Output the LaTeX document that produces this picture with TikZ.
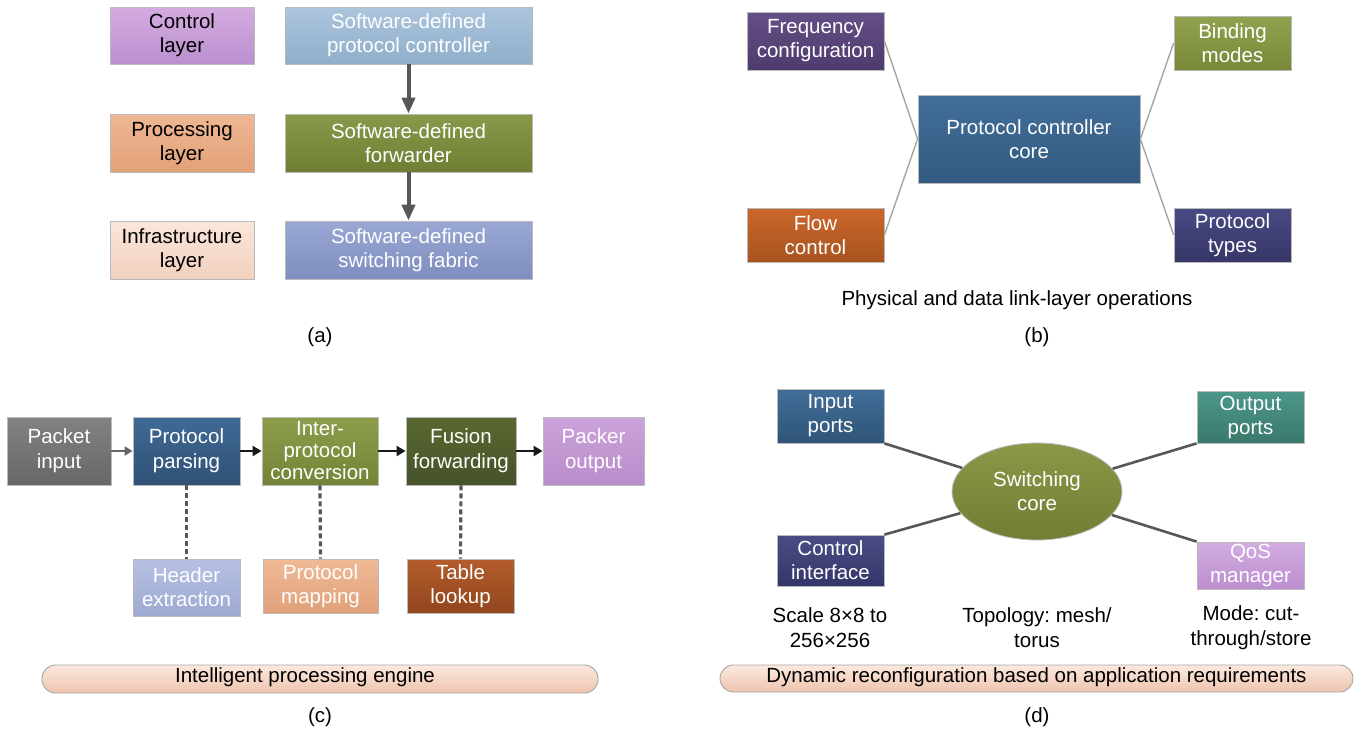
\documentclass[tikz,border=0pt]{standalone}
\usepackage{fontspec}
\setmainfont{Liberation Sans}
\usetikzlibrary{arrows.meta,shapes.geometric}
\frenchspacing
% panel (a)
\definecolor{ctlT}{HTML}{D3ACE1}\definecolor{ctlB}{HTML}{BC8FCF}
\definecolor{proT}{HTML}{EFB793}\definecolor{proB}{HTML}{E2A179}
\definecolor{infT}{HTML}{FAE6DA}\definecolor{infB}{HTML}{F2D1BF}
\definecolor{sdcT}{HTML}{ABC5DC}\definecolor{sdcB}{HTML}{90AECB}
\definecolor{sdfT}{HTML}{88994A}\definecolor{sdfB}{HTML}{6E7F33}
\definecolor{sdsT}{HTML}{9AA8D4}\definecolor{sdsB}{HTML}{7F8DC0}
% panel (b)
\definecolor{frqT}{HTML}{644F86}\definecolor{frqB}{HTML}{4E3B6E}
\definecolor{bndT}{HTML}{91A24F}\definecolor{bndB}{HTML}{778939}
\definecolor{corT}{HTML}{416E98}\definecolor{corB}{HTML}{335A80}
\definecolor{flwT}{HTML}{CB672B}\definecolor{flwB}{HTML}{A8531F}
\definecolor{ptyT}{HTML}{494A84}\definecolor{ptyB}{HTML}{363668}
% panel (c)
\definecolor{pinT}{HTML}{828282}\definecolor{pinB}{HTML}{676767}
\definecolor{ppaT}{HTML}{406A95}\definecolor{ppaB}{HTML}{2F5176}
\definecolor{ipcT}{HTML}{8C9D4C}\definecolor{ipcB}{HTML}{738436}
\definecolor{fusT}{HTML}{596830}\definecolor{fusB}{HTML}{46522A}
\definecolor{pouT}{HTML}{CBA3DB}\definecolor{pouB}{HTML}{B98CCB}
\definecolor{hexT}{HTML}{B6C1E2}\definecolor{hexB}{HTML}{9DA9D2}
\definecolor{pmaT}{HTML}{F0BA96}\definecolor{pmaB}{HTML}{E0A17A}
\definecolor{tblT}{HTML}{B35C2B}\definecolor{tblB}{HTML}{91461E}
% panel (d)
\definecolor{iptT}{HTML}{416E98}\definecolor{iptB}{HTML}{2F5478}
\definecolor{optT}{HTML}{4C978A}\definecolor{optB}{HTML}{3A796C}
\definecolor{cifT}{HTML}{4A4D84}\definecolor{cifB}{HTML}{34366A}
\definecolor{qosT}{HTML}{D2ACE2}\definecolor{qosB}{HTML}{BC8ECF}
\definecolor{swcT}{HTML}{8A9848}\definecolor{swcB}{HTML}{717E33}
\definecolor{barT}{HTML}{FCE9DF}\definecolor{barB}{HTML}{EEC4AE}
\definecolor{arrowgray}{HTML}{575757}
\definecolor{thinline}{HTML}{A5A5A5}

\begin{document}
\begin{tikzpicture}[x=1pt,y=-1pt,
  box/.style={rectangle, draw=black!27, line width=0.8pt, inner sep=0pt,
    align=center, text=white, font=\fontsize{20.5}{24}\selectfont},
  dkbox/.style={box, text=black},
  box3/.style={box, font=\fontsize{20.5}{22}\selectfont},
  plain/.style={inner sep=0pt, align=center, text=black, font=\fontsize{20.5}{25}\selectfont},
  bar/.style={rectangle, rounded corners=13.5pt, draw=black!35, line width=0.9pt,
    top color=barT, bottom color=barB},
  bigarrow/.style={draw=arrowgray, line width=4pt,
    -{Triangle[length=16pt,width=13pt]}},
  flowarrow/.style={draw=black!90, line width=2.6pt,
    -{Triangle[length=9pt,width=10pt]}},
  grayarrow/.style={draw=black!60, line width=2pt,
    -{Triangle[length=8pt,width=9pt]}},
  dotline/.style={draw=arrowgray, line width=3.2pt, dash pattern=on 5pt off 3pt},
  thinlink/.style={draw=thinline, line width=1.4pt},
  darklink/.style={draw=arrowgray, line width=2.6pt}]
\useasboundingbox (0,0) rectangle (1368,734);

% ---------------- panel (a)
\node[dkbox, minimum width=144pt, minimum height=57pt, top color=ctlT, bottom color=ctlB] (ctl) at (182,35.5) {Control\\layer};
\node[dkbox, minimum width=144pt, minimum height=58pt, top color=proT, bottom color=proB] (pro) at (182,143) {Processing\\layer};
\node[dkbox, minimum width=144pt, minimum height=58pt, top color=infT, bottom color=infB] (inf) at (182,250) {Infrastructure\\layer};
\node[box, minimum width=247pt, minimum height=57pt, top color=sdcT, bottom color=sdcB] (sdc) at (408.5,35.5) {Software-defined\\protocol controller};
\node[box, minimum width=247pt, minimum height=58pt, top color=sdfT, bottom color=sdfB] (sdf) at (408.5,143) {Software-defined\\forwarder};
\node[box, minimum width=247pt, minimum height=58pt, top color=sdsT, bottom color=sdsB] (sds) at (408.5,250) {Software-defined\\switching fabric};
\draw[bigarrow] (sdc.south) -- (sdf.north);
\draw[bigarrow] (sdf.south) -- (sds.north);
\node[plain] (la) at (320,337) {(a)};

% ---------------- panel (b)
\node[box, minimum width=137pt, minimum height=58pt, top color=frqT, bottom color=frqB] (frq) at (815.5,41) {Frequency\\configuration};
\node[box, minimum width=117pt, minimum height=54pt, top color=bndT, bottom color=bndB] (bnd) at (1232.5,43) {Binding\\modes};
\node[box, minimum width=222pt, minimum height=88pt, top color=corT, bottom color=corB] (cor) at (1029,139) {Protocol controller\\core};
\node[box, minimum width=137pt, minimum height=54pt, top color=flwT, bottom color=flwB] (flw) at (815.5,235) {Flow\\control};
\node[box, minimum width=117pt, minimum height=54pt, top color=ptyT, bottom color=ptyB] (pty) at (1232.5,235) {Protocol\\types};
\draw[thinlink] (frq.east) -- (cor.west);
\draw[thinlink] (flw.east) -- (cor.west);
\draw[thinlink] (bnd.west) -- (cor.east);
\draw[thinlink] (pty.west) -- (cor.east);
\node[plain] (phy) at (1017,300) {Physical and data link-layer operations};
\node[plain] (lb) at (1037,337) {(b)};

% ---------------- panel (c)
\node[box, minimum width=104pt, minimum height=68pt, top color=pinT, bottom color=pinB, font=\fontsize{20.5}{25}\selectfont] (pin) at (59,451) {Packet\\input};
\node[box, minimum width=107pt, minimum height=68pt, top color=ppaT, bottom color=ppaB, font=\fontsize{20.5}{25}\selectfont] (ppa) at (186.5,451) {Protocol\\parsing};
\node[box3, minimum width=116pt, minimum height=68pt, top color=ipcT, bottom color=ipcB] (ipc) at (320,451) {Inter-\\protocol\\conversion};
\node[box, minimum width=110pt, minimum height=68pt, top color=fusT, bottom color=fusB, font=\fontsize{20.5}{25}\selectfont] (fus) at (461,451) {Fusion\\forwarding};
\node[box, minimum width=101pt, minimum height=68pt, top color=pouT, bottom color=pouB, font=\fontsize{20.5}{25}\selectfont] (pou) at (593.5,451) {Packer\\output};
\node[box, minimum width=107pt, minimum height=57pt, top color=hexT, bottom color=hexB] (hex) at (186.5,587.5) {Header\\extraction};
\node[box, minimum width=115pt, minimum height=54pt, top color=pmaT, bottom color=pmaB] (pma) at (320.5,586) {Protocol\\mapping};
\node[box, minimum width=107pt, minimum height=54pt, top color=tblT, bottom color=tblB] (tbl) at (460.5,586) {Table\\lookup};
\draw[grayarrow] (pin.east) -- (ppa.west);
\draw[flowarrow] (ppa.east) -- (ipc.west);
\draw[flowarrow] (ipc.east) -- (fus.west);
\draw[flowarrow] (fus.east) -- (pou.west);
\draw[dotline] (ppa.south) -- (hex.north);
\draw[dotline] (ipc.south) -- (pma.north);
\draw[dotline] (fus.south) -- (tbl.north);
\node[bar, minimum width=556pt, minimum height=28pt] (ebar) at (320,679) {};
\node[plain] (etxt) at (305,677) {Intelligent processing engine};
\node[plain] (lc) at (320,717) {(c)};

% ---------------- panel (d)
\node[box, minimum width=107pt, minimum height=54pt, top color=iptT, bottom color=iptB] (ipt) at (830.5,416) {Input\\ports};
\node[box, minimum width=107pt, minimum height=51pt, top color=cifT, bottom color=cifB] (cif) at (830.5,560.5) {Control\\interface};
\node[box, minimum width=107pt, minimum height=52pt, top color=optT, bottom color=optB] (opt) at (1250.5,417) {Output\\ports};
\node[box, minimum width=107pt, minimum height=47pt, top color=qosT, bottom color=qosB] (qos) at (1250.5,565.5) {QoS\\manager};
\node[box, ellipse, minimum width=170pt, minimum height=97pt, top color=swcT, bottom color=swcB] (swc) at (1037,491.5) {Switching\\core};
\draw[darklink] (ipt.south east) -- (swc);
\draw[darklink] (cif.north east) -- (swc);
\draw[darklink] (opt.south west) -- (swc);
\draw[darklink] (qos.north west) -- (swc);
\node[plain] (scl) at (830,628) {Scale 8×8 to\\256×256};
\node[plain] (top) at (1037,628) {Topology: mesh/\\torus};
\node[plain] (mod) at (1251,628) {Mode: cut-\\through/store};
\node[bar, minimum width=633pt, minimum height=27pt] (dbar) at (1036.5,678.5) {};
\node[plain] (dtxt) at (1036.5,677) {Dynamic reconfiguration based on application requirements};
\node[plain] (ld) at (1037,717) {(d)};
\end{tikzpicture}
\end{document}
